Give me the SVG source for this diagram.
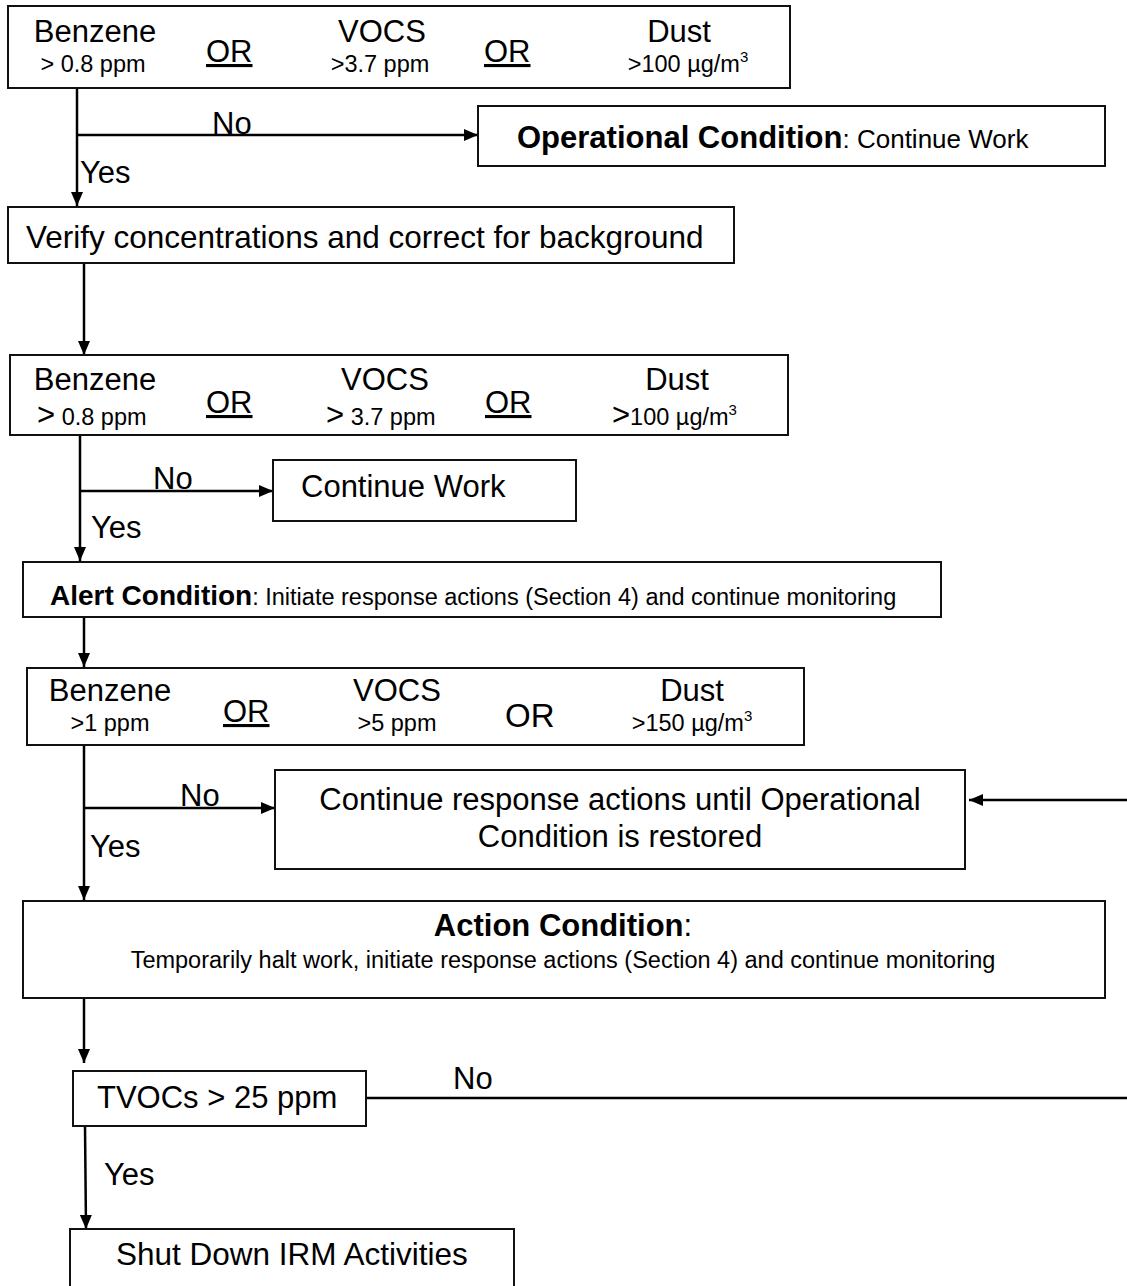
<svg xmlns="http://www.w3.org/2000/svg" width="1127" height="1286" viewBox="0 0 1127 1286">
<defs>
<marker id="ah" viewBox="0 0 14 12" refX="14" refY="6" markerWidth="14" markerHeight="12" markerUnits="userSpaceOnUse" orient="auto">
<path d="M0,0 L14,6 L0,12 z" fill="#000"/>
</marker>
<style>
.box{fill:#fff;stroke:#111;stroke-width:2}
.t{font-family:"Liberation Sans",Arial,sans-serif;fill:#000}
.big{font-size:31px}
.sm{font-size:23.5px}
.b{font-weight:bold}
.u{text-decoration:underline}
.mid{text-anchor:middle}
.ln{stroke:#000;stroke-width:2.5;fill:none}
.arr{stroke:#000;stroke-width:2.5;fill:none;marker-end:url(#ah)}
</style>
</defs>
<rect width="1127" height="1286" fill="#fff"/>

<g id="connectors">
<line class="ln" x1="77" y1="88" x2="77" y2="135"/>
<line class="arr" x1="77" y1="135" x2="77" y2="206"/>
<line class="arr" x1="77" y1="135" x2="478" y2="135"/>
<line class="arr" x1="84" y1="263" x2="84" y2="355"/>
<line class="ln" x1="80" y1="435" x2="80" y2="491"/>
<line class="arr" x1="80" y1="491" x2="80" y2="561"/>
<line class="arr" x1="80" y1="491" x2="273" y2="491"/>
<line class="arr" x1="84" y1="617" x2="84" y2="667"/>
<line class="ln" x1="84" y1="745" x2="84" y2="808"/>
<line class="arr" x1="84" y1="808" x2="84" y2="900"/>
<line class="arr" x1="84" y1="808" x2="275" y2="808"/>
<line class="arr" x1="1127" y1="800" x2="969" y2="800"/>
<line class="arr" x1="84" y1="998" x2="84" y2="1063"/>
<line class="ln" x1="366" y1="1098" x2="1127" y2="1098"/>
<line class="arr" x1="85" y1="1126" x2="86" y2="1229"/>
<text class="t big" x="212" y="134">No</text>
<text class="t big" x="80" y="183">Yes</text>
<text class="t big" x="153" y="489">No</text>
<text class="t big" x="91" y="538">Yes</text>
<text class="t big" x="180" y="806">No</text>
<text class="t big" x="90" y="857">Yes</text>
<text class="t big" x="453" y="1089">No</text>
<text class="t big" x="104" y="1185">Yes</text>
</g>

<g id="check1">
<rect class="box" x="8" y="6" width="782" height="82"/>
<text class="t big mid" x="95" y="42">Benzene</text>
<text class="t sm mid" x="93" y="72">&gt; 0.8 ppm</text>
<text class="t big u" x="206" y="62">OR</text>
<text class="t big mid" x="382" y="42">VOCS</text>
<text class="t sm mid" x="380" y="72">&gt;3.7 ppm</text>
<text class="t big u" x="484" y="62">OR</text>
<text class="t big mid" x="679" y="42">Dust</text>
<text class="t sm mid" x="688" y="72">&gt;100 µg/m<tspan font-size="15" dy="-10">3</tspan></text>
</g>

<g id="operational">
<rect class="box" x="478" y="106" width="627" height="60"/>
<text class="t" x="517" y="148"><tspan class="b" font-size="31">Operational Condition</tspan><tspan font-size="26">: Continue Work</tspan></text>
</g>

<g id="verify">
<rect class="box" x="8" y="207" width="726" height="56"/>
<text class="t" font-size="31.5" x="26" y="248">Verify concentrations and correct for background</text>
</g>

<g id="check2">
<rect class="box" x="10" y="355" width="778" height="80"/>
<text class="t big mid" x="95" y="390">Benzene</text>
<text class="t sm" x="37" y="425"><tspan font-size="31">&gt;</tspan> 0.8 ppm</text>
<text class="t big u" x="206" y="413">OR</text>
<text class="t big mid" x="385" y="390">VOCS</text>
<text class="t sm" x="326" y="425"><tspan font-size="31">&gt;</tspan> 3.7 ppm</text>
<text class="t big u" x="485" y="413">OR</text>
<text class="t big mid" x="677" y="390">Dust</text>
<text class="t sm" x="612" y="425"><tspan font-size="31">&gt;</tspan>100 µg/m<tspan font-size="15" dy="-10">3</tspan></text>
</g>

<g id="continue-work">
<rect class="box" x="273" y="460" width="303" height="61"/>
<text class="t big" x="301" y="497">Continue Work</text>
</g>

<g id="alert">
<rect class="box" x="23" y="562" width="918" height="55"/>
<text class="t" x="50" y="605"><tspan class="b" font-size="28">Alert Condition</tspan><tspan font-size="23.5">: Initiate response actions (Section 4) and continue monitoring</tspan></text>
</g>

<g id="check3">
<rect class="box" x="27" y="668" width="777" height="77"/>
<text class="t big mid" x="110" y="701">Benzene</text>
<text class="t sm mid" x="110" y="731">&gt;1 ppm</text>
<text class="t big u" x="223" y="722">OR</text>
<text class="t big mid" x="397" y="701">VOCS</text>
<text class="t sm mid" x="397" y="731">&gt;5 ppm</text>
<text class="t" font-size="33" x="505" y="727">OR</text>
<text class="t big mid" x="692" y="701">Dust</text>
<text class="t sm mid" x="692" y="731">&gt;150 µg/m<tspan font-size="15" dy="-10">3</tspan></text>
</g>

<g id="continue-response">
<rect class="box" x="275" y="770" width="690" height="99"/>
<text class="t big mid" x="620" y="810">Continue response actions until Operational</text>
<text class="t big mid" x="620" y="847">Condition is restored</text>
</g>

<g id="action">
<rect class="box" x="23" y="901" width="1082" height="97"/>
<text class="t mid" x="563" y="936"><tspan class="b" font-size="31">Action Condition</tspan><tspan font-size="31">:</tspan></text>
<text class="t sm mid" x="563" y="968">Temporarily halt work, initiate response actions (Section 4) and continue monitoring</text>
</g>

<g id="tvocs">
<rect class="box" x="73" y="1071" width="293" height="55"/>
<text class="t big" x="97" y="1108">TVOCs &gt; 25 ppm</text>
</g>

<g id="shutdown">
<rect class="box" x="70" y="1229" width="444" height="60"/>
<text class="t" font-size="31.5" x="116" y="1265">Shut Down IRM Activities</text>
</g>
</svg>
